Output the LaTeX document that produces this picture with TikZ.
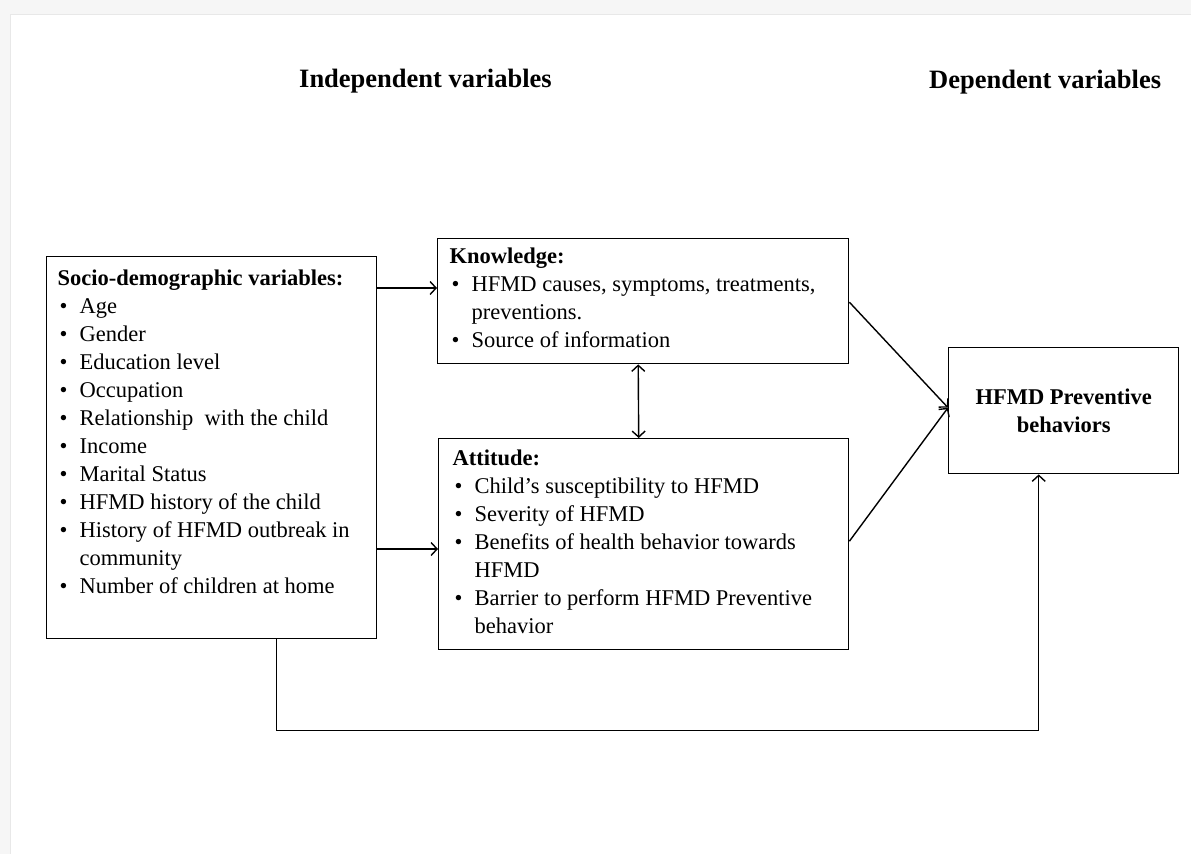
\documentclass[tikz,border=0pt]{standalone}
\usepackage{fontspec}
\setmainfont{Liberation Serif}
\usetikzlibrary{arrows.meta}
\newcommand{\bl}[1]{\par\hangindent=22pt\hangafter=1\noindent\hspace{2pt}\makebox[20pt][l]{•}#1}
% width, height, xsep, ysep, content
\newcommand{\inbox}[5]{\parbox[c][#2pt][t]{#1pt}{\vspace*{#4pt}\raggedright\leftskip=#3pt\relax\fontsize{22.5}{28}\selectfont #5\par}}
\begin{document}
\begin{tikzpicture}[x=1pt,y=-1pt,
  box/.style={draw, line width=1.4pt, inner sep=0pt, anchor=north west},
  arr/.style={line width=1.4pt, -{Straight Barb[length=6pt,width=13pt]}},
  darr/.style={line width=1.4pt, {Straight Barb[length=6pt,width=13pt]}-{Straight Barb[length=6pt,width=13pt]}},
  ttl/.style={font=\fontsize{26.5}{30}\selectfont\bfseries, anchor=base west, inner sep=0pt}]
\useasboundingbox (0,0) rectangle (1191,854);
\fill[gray!7] (0,0) rectangle (1191,854);
\fill[white] (10,14) rectangle (1191,854);
\draw[gray!18, line width=1pt] (10,854) -- (10,14) -- (1191,14);

\node[ttl] (indep) at (299,87) {Independent variables};
\node[ttl] (dep) at (929,88) {Dependent variables};

\node[box] (socio) at (46,256) {\inbox{330}{382}{11}{13}{%
  {\bfseries Socio-demographic variables:}
  \bl{Age}\bl{Gender}\bl{Education level}\bl{Occupation}
  \bl{Relationship\ \ with the child}\bl{Income}\bl{Marital Status}
  \bl{HFMD history of the child}\bl{History of HFMD outbreak in\newline community}
  \bl{Number of children at home}}};

\node[box] (know) at (437,238) {\inbox{411}{125}{12}{9.5}{%
  {\bfseries Knowledge:}
  \bl{HFMD causes, symptoms, treatments,\newline preventions.}
  \bl{Source of information}}};

\node[box] (att) at (438,438) {\inbox{410}{211}{14}{11.5}{%
  {\bfseries Attitude:}
  \bl{Child’s susceptibility to HFMD}
  \bl{Severity of HFMD}
  \bl{Benefits of health behavior towards\newline HFMD}
  \bl{Barrier to perform HFMD Preventive\newline behavior}}};

\node[draw, line width=1.4pt, anchor=north west, minimum width=230pt, minimum height=126pt,
  align=center, font=\fontsize{22.5}{28}\selectfont\bfseries] (hfmd) at (948,347)
  {HFMD Preventive\\behaviors};

\coordinate (s1) at ([yshift=-32pt]socio.north east);
\draw[arr] (s1) -- (s1 -| know.west);
\coordinate (s2) at ([yshift=-293pt]socio.north east);
\draw[arr] (s2) -- (s2 -| att.west);
\draw[darr] ([xshift=-5pt]know.south) -- ([xshift=-5pt]att.north);
\draw[arr] ([yshift=-1pt]know.east) -- ([yshift=3pt]hfmd.west);
\draw[arr] ([yshift=3pt]att.east) -- ([yshift=3pt]hfmd.west);
\coordinate (b1) at ([xshift=65pt]socio.south);
\coordinate (b2) at ([xshift=-25pt]hfmd.south);
\draw[arr] (b1) -- ++(0,91) -| (b2);
\end{tikzpicture}
\end{document}
